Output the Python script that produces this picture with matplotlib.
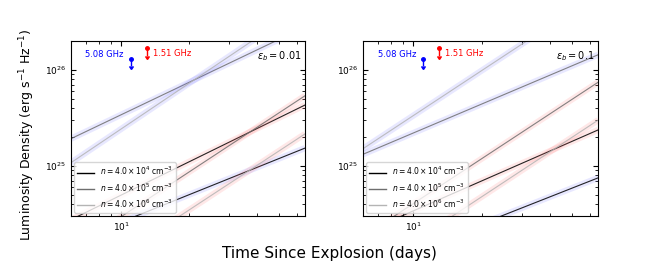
import numpy as np
import matplotlib
matplotlib.use('Agg')
import matplotlib.pyplot as plt

# time range used for the model curves (days)
t_model = [6.0, 65.0]

# luminosity densities (erg/s/Hz) at t_model, per panel
eps_labels = ['0.01', '0.1']
densities = ['4.0 \\times 10^4', '4.0 \\times 10^5', '4.0 \\times 10^6']

left_508 = [[1.6e24, 1.53e25], [1.92e25, 2.8e26], [1.08e25, 4.7e26]]
left_151 = [[2.75e24, 4.3e25], [1.34e24, 5.37e25], [5.4e23, 2.15e25]]
right_508 = [[8.1e23, 7.5e24], [1.32e25, 1.44e26], [1.51e25, 6.2e26]]
right_151 = [[2.0e24, 2.37e25], [1.83e24, 7.45e25], [7.3e23, 3.0e25]]

# observed upper limits
obs_t = [11.0, 13.0]
obs_L = [1.31e26, 1.7e26]
obs_band = ['5.08 GHz', '1.51 GHz']

line_colors = ['#000000', '#6e6e6e', '#b4b4b4']
glow_colors = {'508': '#6060ff', '151': '#ff6060'}
obs_colors = ['blue', 'red']

fig = plt.figure(figsize=(6.46, 2.70), dpi=100)
axes = [fig.add_axes([0.110, 0.200, 0.362, 0.648]),
        fig.add_axes([0.562, 0.200, 0.364, 0.648])]

panels = [(left_508, left_151), (right_508, right_151)]

for ax, (l508, l151), eps in zip(axes, panels, eps_labels):
    for i in range(3):
        for vals, band in [(l508[i], '508'), (l151[i], '151')]:
            ax.plot(t_model, vals, color=glow_colors[band], lw=4.5, alpha=0.14,
                    solid_capstyle='butt')
            ax.plot(t_model, vals, color=line_colors[i], lw=0.8, alpha=0.85)
    # legend handles
    for i in range(3):
        ax.plot([], [], color=line_colors[i], lw=1.0,
                label=r'$n = %s$ cm$^{-3}$' % densities[i])

    for t, L, c in zip(obs_t, obs_L, obs_colors):
        ax.errorbar([t], [L], yerr=[[0.17 * L], [0]], uplims=True, fmt='o',
                    ms=2.5, color=c, elinewidth=1.0, capsize=1.5)
    ax.annotate(obs_band[0], (obs_t[0], obs_L[0]), xytext=(-5, 0),
                textcoords='offset points', ha='right', va='bottom',
                color='blue', fontsize=6)
    ax.annotate(obs_band[1], (obs_t[1], obs_L[1]), xytext=(4, -7),
                textcoords='offset points', ha='left', va='bottom',
                color='red', fontsize=6)

    ax.text(0.985, 0.955, r'$\epsilon_b = %s$' % eps, transform=ax.transAxes,
            ha='right', va='top', fontsize=7)

    ax.set_xscale('log')
    ax.set_yscale('log')
    ax.set_xlim(6.0, 65.0)
    ax.set_ylim(3e24, 2e26)
    ax.tick_params(which='both', direction='in', top=True, right=True,
                   labelsize=6.5)
    ax.tick_params(which='major', length=3.5)
    ax.tick_params(which='minor', length=2)
    ax.legend(loc='lower left', fontsize=5.5, handlelength=2.2,
              borderaxespad=0.4)

fig.text(0.042, 0.50, r'Luminosity Density (erg s$^{-1}$ Hz$^{-1}$)',
         rotation=90, ha='center', va='center', fontsize=9)
fig.text(0.51, 0.06, 'Time Since Explosion (days)', ha='center',
         va='center', fontsize=11)

plt.savefig('out.png', dpi=100)
